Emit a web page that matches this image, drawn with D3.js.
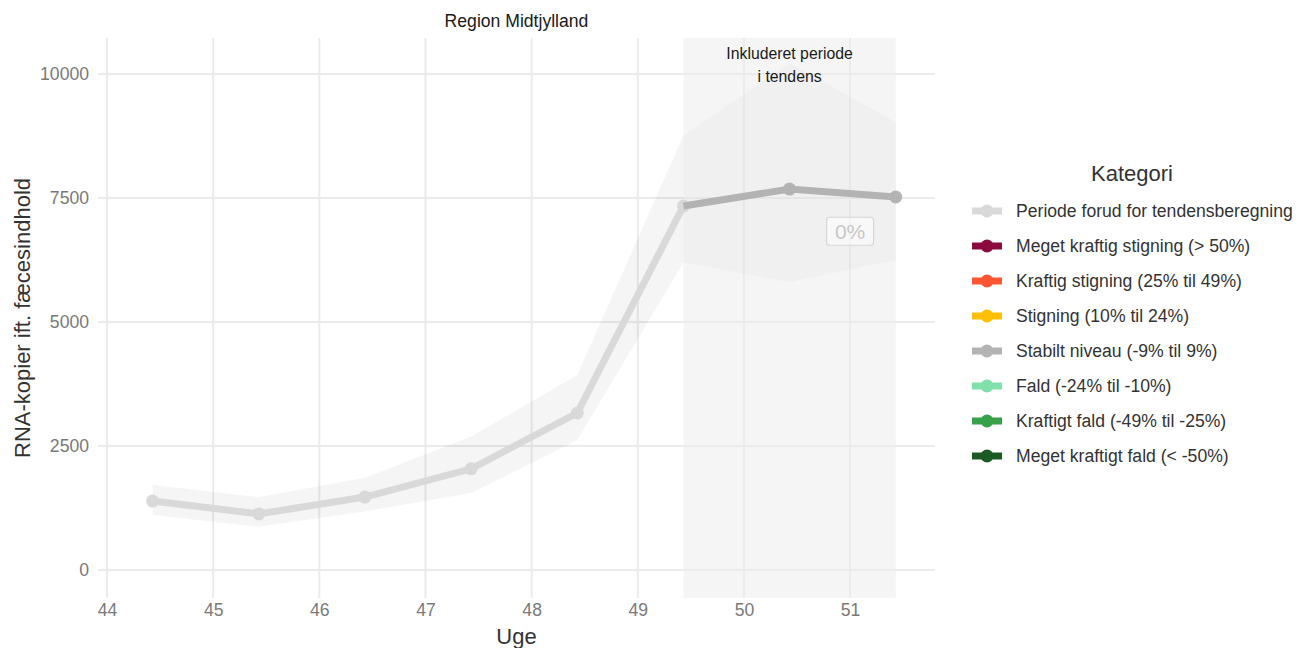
<!DOCTYPE html>
<html>
<head>
<meta charset="utf-8">
<script src="https://cdn.jsdelivr.net/npm/d3@7"></script>
<style>
  body { margin: 0; background: #fff; }
  svg { font-family: "Liberation Sans", Arial, sans-serif; }
</style>
</head>
<body>
<svg id="chart"></svg>
<script>
const WIDTH = 1299;
const HEIGHT = 648;

// data
const uge = [44.43, 45.43, 46.43, 47.43, 48.43, 49.43, 50.43, 51.43];
const niveau = [1390, 1130, 1470, 2040, 3165, 7340, 7680, 7520];
const nedre = [1110, 870, 1180, 1550, 2620, 6200, 5800, 6250];
const oevre = [1715, 1470, 1860, 2690, 3930, 8760, 10220, 9030];
const kategoriPrPunkt = ["forud", "forud", "forud", "forud", "forud", "forud", "stabil", "stabil"];
const tendensPeriode = [49.43, 51.43];
const tendensLabel = { uge: 51.0, vaerdi: 6830, tekst: "0%" };

const xTicks = [44, 45, 46, 47, 48, 49, 50, 51];
const yTicks = [0, 2500, 5000, 7500, 10000];

const kategorier = [
  { key: "forud", label: "Periode forud for tendensberegning", color: "#d9d9d9" },
  { key: "mks", label: "Meget kraftig stigning (> 50%)", color: "#8b0a40" },
  { key: "ks", label: "Kraftig stigning (25% til 49%)", color: "#fd5635" },
  { key: "s", label: "Stigning (10% til 24%)", color: "#fec006" },
  { key: "stabil", label: "Stabilt niveau (-9% til 9%)", color: "#b3b3b3" },
  { key: "f", label: "Fald (-24% til -10%)", color: "#80e0aa" },
  { key: "kf", label: "Kraftigt fald (-49% til -25%)", color: "#38a048" },
  { key: "mkf", label: "Meget kraftigt fald (< -50%)", color: "#1c5a25" }
];
const farve = {};
kategorier.forEach(k => farve[k.key] = k.color);

const SMALL = 17.6;  // axis text, strip text, legend text
const BIG = 22;      // axis titles, legend title

function main(){
  const svg = d3.select("#chart").attr("width", WIDTH).attr("height", HEIGHT);

  const panel = { left: 98, right: 935, top: 38, bottom: 598 };

  const x = d3.scaleLinear().domain([43.915, 51.80]).range([panel.left, panel.right]);
  const y = d3.scaleLinear().domain([-565, 10726]).range([panel.bottom, panel.top]);

  // grid
  const grid = svg.append("g");
  grid.selectAll(".gy").data(yTicks).enter().append("line")
    .attr("x1", panel.left).attr("x2", panel.right)
    .attr("y1", d => y(d)).attr("y2", d => y(d))
    .attr("stroke", "#ebebeb").attr("stroke-width", 2);
  grid.selectAll(".gx").data(xTicks).enter().append("line")
    .attr("y1", panel.top).attr("y2", panel.bottom)
    .attr("x1", d => x(d)).attr("x2", d => x(d))
    .attr("stroke", "#ebebeb").attr("stroke-width", 2);

  // ribbon
  const punkter = uge.map((u, i) => ({ u, v: niveau[i], lo: nedre[i], hi: oevre[i], k: kategoriPrPunkt[i] }));
  svg.append("path")
    .datum(punkter)
    .attr("d", d3.area().x(d => x(d.u)).y0(d => y(d.lo)).y1(d => y(d.hi)))
    .attr("fill", "#000").attr("fill-opacity", 0.04);

  // shaded trend period (semi transparent, over the ribbon)
  svg.append("rect")
    .attr("x", x(tendensPeriode[0]))
    .attr("y", panel.top)
    .attr("width", x(tendensPeriode[1]) - x(tendensPeriode[0]))
    .attr("height", panel.bottom - panel.top)
    .attr("fill", "#ebebeb").attr("fill-opacity", 0.5);

  // line parts per category; the trend part starts at the last point before it
  const forud = punkter.filter(d => d.k === "forud");
  const stabil = punkter.filter((d, i) => d.k === "stabil" || (i + 1 < punkter.length && punkter[i + 1].k === "stabil"));
  const line = d3.line().x(d => x(d.u)).y(d => y(d.v));

  svg.append("path").datum(forud).attr("d", line)
    .attr("fill", "none").attr("stroke", farve.forud).attr("stroke-width", 7);
  svg.selectAll(".pf").data(forud).enter().append("circle")
    .attr("cx", d => x(d.u)).attr("cy", d => y(d.v)).attr("r", 6.5)
    .attr("fill", farve.forud);

  svg.append("path").datum(stabil).attr("d", line)
    .attr("fill", "none").attr("stroke", farve.stabil).attr("stroke-width", 7);
  svg.selectAll(".ps").data(stabil.slice(1)).enter().append("circle")
    .attr("cx", d => x(d.u)).attr("cy", d => y(d.v)).attr("r", 6.5)
    .attr("fill", farve.stabil);

  // period annotation
  const midt = (tendensPeriode[0] + tendensPeriode[1]) / 2;
  svg.append("text").attr("x", x(midt)).attr("y", 59)
    .attr("text-anchor", "middle").attr("font-size", 15.8).attr("fill", "#1a1a1a")
    .text("Inkluderet periode");
  svg.append("text").attr("x", x(midt)).attr("y", 82)
    .attr("text-anchor", "middle").attr("font-size", 15.8).attr("fill", "#1a1a1a")
    .text("i tendens");

  // percentage label
  const lx = x(tendensLabel.uge), ly = y(tendensLabel.vaerdi);
  svg.append("rect")
    .attr("x", lx - 23.5).attr("y", ly - 14).attr("width", 47).attr("height", 28)
    .attr("rx", 3).attr("fill", "#ffffff").attr("fill-opacity", 0.5)
    .attr("stroke", "#d6d6d6").attr("stroke-width", 1.2);
  svg.append("text").attr("x", lx).attr("y", ly + 7.5)
    .attr("text-anchor", "middle").attr("font-size", 21).attr("fill", "#c8c8c8")
    .text(tendensLabel.tekst);

  // axes
  const xAxis = svg.append("g").attr("transform", `translate(0,${panel.bottom})`)
    .call(d3.axisBottom(x).tickValues(xTicks).tickSize(0).tickPadding(6));
  const yAxis = svg.append("g").attr("transform", `translate(${panel.left},0)`)
    .call(d3.axisLeft(y).tickValues(yTicks).tickSize(0).tickPadding(9).tickFormat(d3.format("d")));
  [xAxis, yAxis].forEach(a => {
    a.select(".domain").remove();
    a.selectAll("text").attr("font-size", SMALL).attr("fill", "#7a7a7a")
      .attr("font-family", "Liberation Sans, Arial, sans-serif");
  });

  // titles
  svg.append("text").attr("x", (panel.left + panel.right) / 2).attr("y", 27)
    .attr("text-anchor", "middle").attr("font-size", SMALL).attr("fill", "#1a1a1a")
    .text("Region Midtjylland");
  svg.append("text").attr("x", (panel.left + panel.right) / 2).attr("y", 644)
    .attr("text-anchor", "middle").attr("font-size", BIG).attr("fill", "#333")
    .text("Uge");
  svg.append("text")
    .attr("transform", `translate(30,${(panel.top + panel.bottom) / 2}) rotate(-90)`)
    .attr("text-anchor", "middle").attr("font-size", BIG).attr("fill", "#333")
    .text("RNA-kopier ift. fæcesindhold");

  // legend
  const legend = svg.append("g").attr("transform", "translate(972,0)");
  legend.append("text").attr("x", 160).attr("y", 181)
    .attr("text-anchor", "middle").attr("font-size", BIG).attr("fill", "#333")
    .text("Kategori");
  const rows = legend.selectAll(".row").data(kategorier).enter().append("g")
    .attr("transform", (d, i) => `translate(0,${211 + i * 35})`);
  rows.append("line").attr("x1", 0).attr("x2", 30)
    .attr("stroke", d => d.color).attr("stroke-width", 7);
  rows.append("circle").attr("cx", 15).attr("r", 6.5).attr("fill", d => d.color);
  rows.append("text").attr("x", 44).attr("y", 6.3)
    .attr("font-size", SMALL).attr("fill", "#333")
    .text(d => d.label);
}

window.addEventListener("load", main);
</script>
</body>
</html>
